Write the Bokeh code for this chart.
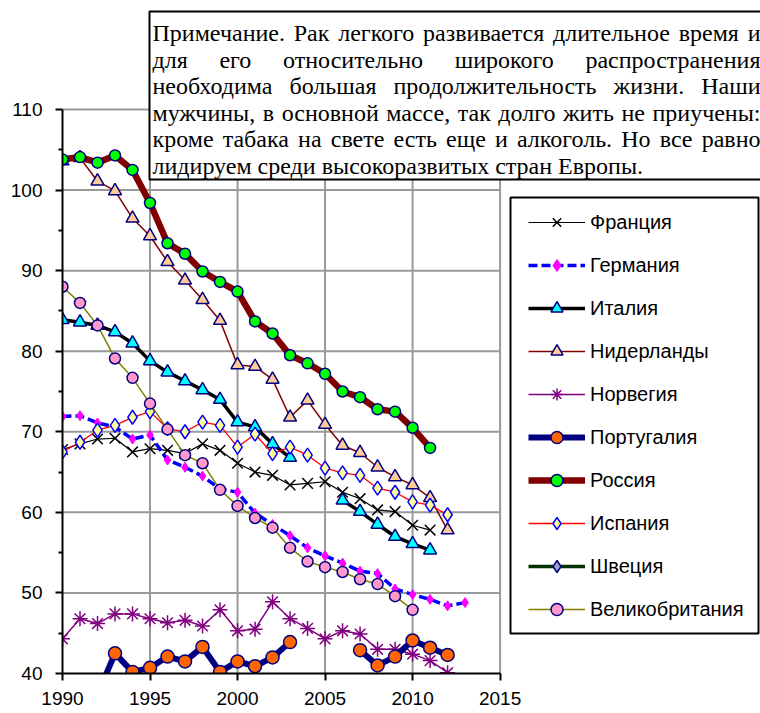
import glob
from bokeh.plotting import figure
from bokeh.models import Legend, LegendItem, FixedTicker, Range1d
from bokeh.embed import file_html
from bokeh.resources import INLINE
from bokeh.core.properties import value

nan = float("nan")

# ---------------- data ----------------
x_ticks = [1990, 1995, 2000, 2005, 2010, 2015]
y_ticks = [40, 50, 60, 70, 80, 90, 100, 110]
y_minor = [45, 55, 65, 75, 85, 95, 105]

france_years = list(range(1990, 2012))
france = [67.8, 68.5, 69.1, 69.2, 67.5, 67.9, 67.7, 67.3, 68.5, 67.7, 66.1,
          65.0, 64.6, 63.4, 63.6, 63.8, 62.5, 61.7, 60.3, 60.1, 58.4, 57.8]

germany_years = list(range(1990, 2014))
germany = [71.9, 72.0, 71.1, 70.6, 69.1, 69.6, 66.5, 65.6, 64.5, 62.9, 62.5,
           59.9, 58.5, 57.1, 55.6, 54.6, 53.7, 52.7, 52.4, 50.5, 49.8, 49.2,
           48.4, 48.8]

italy_years = list(range(1990, 2012))
italy = [83.9, 83.6, 83.2, 82.4, 81.0, 78.8, 77.4, 76.3, 75.2, 74.0, 71.2,
         70.6, 68.5, 66.8, nan, nan, 61.5, 60.1, 58.5, 57.0, 56.1, 55.3]

netherlands_years = list(range(1990, 2013))
netherlands = [103.6, 104.0, 101.1, 99.9, 96.5, 94.3, 91.1, 88.8, 86.4, 83.8,
               78.3, 78.1, 76.5, 71.8, 73.9, 70.9, 68.3, 67.4, 65.6, 64.4,
               63.4, 61.8, 57.8]

norway_years = list(range(1990, 2013))
norway = [44.3, 46.8, 46.2, 47.4, 47.4, 46.8, 46.3, 46.6, 45.9, 47.9, 45.3,
          45.5, 48.9, 46.8, 45.6, 44.3, 45.3, 44.9, 43.0, 43.0, 42.4, 41.6,
          40.1]

portugal_years = list(range(1992, 2013))
portugal = [37.4, 42.5, 40.2, 40.7, 42.1, 41.5, 43.3, 40.2, 41.5, 40.9, 42.0,
            43.9, nan, nan, nan, 42.9, 41.0, 42.1, 44.1, 43.2, 42.3]

russia_years = list(range(1990, 2012))
russia = [103.8, 104.1, 103.4, 104.3, 102.5, 98.4, 93.4, 92.1, 89.9, 88.6,
          87.4, 83.7, 82.2, 79.5, 78.5, 77.2, 75.0, 74.3, 72.8, 72.5, 70.5,
          68.0]

spain_years = list(range(1990, 2013))
spain = [67.5, 68.7, 70.2, 70.8, 71.8, 72.5, 70.4, 70.0, 71.2, 70.8, 68.1,
         69.7, 67.3, 68.1, 67.1, 65.5, 64.9, 64.6, 63.0, 62.5, 61.3, 60.9,
         59.7]

# Sweden: legend entry only, no values visible within the axis range
sweden_years = [1990]
sweden = [nan]

uk_years = list(range(1990, 2011))
uk = [88.0, 86.0, 83.2, 79.1, 76.7, 73.5, 70.3, 67.1, 66.1, 62.8, 60.8, 59.3,
      58.1, 55.6, 53.9, 53.2, 52.6, 51.7, 51.1, 49.6, 47.9]

note_lines = [
    "Примечание. Рак легкого развивается длительное время и",
    "для его относительно широкого распространения",
    "необходима большая продолжительность жизни. Наши",
    "мужчины, в основной массе, так долго жить не приучены:",
    "кроме табака на свете есть еще и алкоголь. Но все равно",
    "лидируем среди высокоразвитых стран Европы.",
]

# ---------------- geometry ----------------
W, H = 760, 713
LEFT = 62
BOTTOM = 40
FRAME_W = W - LEFT
FRAME_H = H - BOTTOM
PX_PER_YEAR = 17.504
PX_PER_UNIT = 8.057
X_END = 1990 + FRAME_W / PX_PER_YEAR
Y_END = 40 + FRAME_H / PX_PER_UNIT


def dx(px):  # canvas px -> data x
    return 1990 + (px - LEFT) / PX_PER_YEAR


def dy(py):  # canvas px (from top) -> data y
    return 40 + (FRAME_H - py) / PX_PER_UNIT


p = figure(width=W, height=H, output_backend="svg", toolbar_location=None,
           x_range=Range1d(1990, X_END), y_range=Range1d(40, Y_END),
           min_border_left=LEFT, min_border_right=0, min_border_top=0,
           min_border_bottom=BOTTOM, title=None)
p.outline_line_color = None
p.background_fill_color = "white"
p.border_fill_color = "white"
p.xgrid.visible = False
p.ygrid.visible = False

# grid lines from tick arrays
gy = [t for t in y_ticks if t > y_ticks[0]]
p.segment(x0=[x_ticks[0]] * len(gy), x1=[x_ticks[-1]] * len(gy), y0=gy, y1=gy,
          line_color="#999999", line_width=2)
gx = [t for t in x_ticks if t > x_ticks[0]]
p.segment(x0=gx, x1=gx, y0=[y_ticks[0]] * len(gx), y1=[y_ticks[-1]] * len(gx),
          line_color="#999999", line_width=2)

# axes
for ax in (p.xaxis[0], p.yaxis[0]):
    ax.axis_line_color = "black"
    ax.axis_line_width = 2
    ax.major_tick_line_color = "black"
    ax.major_tick_line_width = 2
    ax.minor_tick_line_color = "black"
    ax.minor_tick_line_width = 2
    ax.major_tick_in = 0
    ax.major_tick_out = 7
    ax.minor_tick_in = 0
    ax.minor_tick_out = 4
    ax.major_label_text_font = "Liberation Sans"
    ax.major_label_text_font_size = "19px"
    ax.major_label_text_color = "black"

p.xaxis.bounds = (x_ticks[0], x_ticks[-1])
p.xaxis.ticker = FixedTicker(ticks=x_ticks)
p.xaxis.minor_tick_line_color = None
p.xaxis.major_label_standoff = 11
p.yaxis.bounds = (y_ticks[0], y_ticks[-1])
p.yaxis.ticker = FixedTicker(ticks=y_ticks, minor_ticks=y_minor)
p.yaxis.major_label_standoff = 13

series = [
    ("Франция", france_years, france,
     dict(line_color="black", line_width=1.2),
     dict(marker="x", size=15, line_color="black", line_width=1.5)),
    ("Германия", germany_years, germany,
     dict(line_color="#0000FF", line_width=3.5, line_dash="9 4"),
     dict(marker="diamond", size=10, fill_color="#FF00FF",
          line_color="#FF00FF")),
    ("Италия", italy_years, italy,
     dict(line_color="black", line_width=3.5),
     dict(marker="triangle", size=13, fill_color="#00FFFF",
          line_color="#000080", line_width=1.5)),
    ("Нидерланды", netherlands_years, netherlands,
     dict(line_color="#800000", line_width=1.5),
     dict(marker="triangle", size=13, fill_color="#FFCC99",
          line_color="#000080", line_width=1.5)),
    ("Норвегия", norway_years, norway,
     dict(line_color="#800080", line_width=1.5),
     dict(marker="asterisk", size=15, line_color="#800080", line_width=1.5)),
    ("Португалия", portugal_years, portugal,
     dict(line_color="#000080", line_width=6),
     dict(marker="circle", size=13, fill_color="#FF6600",
          line_color="#000080", line_width=1.5)),
    ("Россия", russia_years, russia,
     dict(line_color="#800000", line_width=6.5),
     dict(marker="circle", size=11, fill_color="#00FF00",
          line_color="#000080", line_width=1.5)),
    ("Испания", spain_years, spain,
     dict(line_color="#FF0000", line_width=1.3),
     dict(marker="diamond", size=14, fill_color="#FFFF99",
          line_color="#0000FF", line_width=1.5)),
    ("Швеция", sweden_years, sweden,
     dict(line_color="#003300", line_width=3.5),
     dict(marker="diamond", size=14, fill_color="#A0A0C8",
          line_color="#000080", line_width=1.5)),
    ("Великобритания", uk_years, uk,
     dict(line_color="#808000", line_width=1.5),
     dict(marker="circle", size=11, fill_color="#FF99CC",
          line_color="#000080", line_width=1.5)),
]

items = []
for name, xs, ys, lstyle, mstyle in series:
    lr = p.line(xs, ys, **lstyle)
    sr = p.scatter(xs, ys, **mstyle)
    items.append(LegendItem(label=name, renderers=[lr, sr]))

# legend frame
p.quad(left=[dx(510)], right=[dx(758)], top=[dy(197)], bottom=[dy(633)],
       fill_color="white", line_color="black", line_width=2)

legend = Legend(items=items, location=(528 - LEFT, 49),
                border_line_color=None, background_fill_alpha=0,
                label_text_font="Liberation Sans", label_text_font_size="20px",
                label_text_color="black",
                glyph_width=57, glyph_height=30, label_height=30, spacing=13,
                padding=0, label_standoff=5, margin=0)
p.add_layout(legend)

# note box
p.quad(left=[dx(149)], right=[dx(775)], top=[dy(11)], bottom=[dy(179)],
       fill_color="white", line_color="black", line_width=2)

FONT_PX = 24
font_path = None
for pat in ("/usr/share/fonts/**/LiberationSerif-Regular.ttf",
            "/usr/**/LiberationSerif-Regular.ttf"):
    found = glob.glob(pat, recursive=True)
    if found:
        font_path = found[0]
        break


def measure(word):
    try:
        from PIL import ImageFont
        f = ImageFont.truetype(font_path, FONT_PX)
        return f.getlength(word)
    except Exception:
        return len(word) * FONT_PX * 0.5


TXT_L, TXT_R = 152, 760
baselines = [32.5, 59.1, 85.7, 112.3, 138.9, 165.5]
wx, wy, wt = [], [], []
for i, line in enumerate(note_lines):
    words = line.split()
    if i == len(note_lines) - 1:
        x = TXT_L
        sp = measure(" ")
        for w in words:
            wx.append(dx(x)); wy.append(dy(baselines[i])); wt.append(w)
            x += measure(w) + sp
    else:
        widths = [measure(w) for w in words]
        gap = (TXT_R - TXT_L - sum(widths)) / (len(words) - 1)
        x = TXT_L
        for w, wd in zip(words, widths):
            wx.append(dx(x)); wy.append(dy(baselines[i])); wt.append(w)
            x += wd + gap

p.text(x=wx, y=wy, text=wt, text_font=value("Liberation Serif"),
       text_font_size=value(f"{FONT_PX}px"), text_baseline="alphabetic",
       text_align="left", text_color="black")

open("out.html", "w").write(file_html(p, INLINE))
